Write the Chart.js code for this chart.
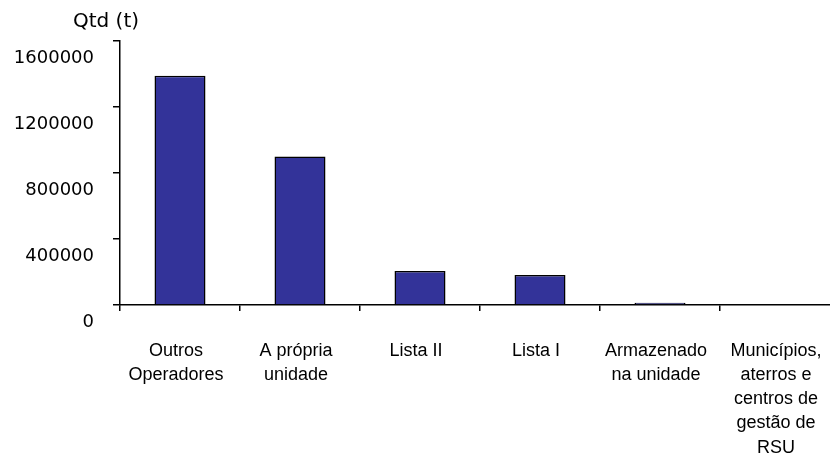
<!DOCTYPE html>
<html>
<head>
<meta charset="utf-8">
<script src="https://cdn.jsdelivr.net/npm/chart.js@4"></script>
<style>
  html, body { margin: 0; padding: 0; background: #fff; overflow: hidden; }
  canvas { display: block; }
</style>
</head>
<body>
<canvas id="destino" width="840" height="454"></canvas>
<script>
// Destino dos resíduos (t)
const categorias = [
  ['Outros', 'Operadores'],
  ['A própria', 'unidade'],
  'Lista II',
  'Lista I',
  ['Armazenado', 'na unidade'],
  ['Municípios,', 'aterros e', 'centros de', 'gestão de', 'RSU']
];
const quantidades = [1390000, 900000, 206000, 182000, 13000, 0];
const yMax = 1600000;
const yPasso = 400000;
const tituloY = 'Qtd (t)';

// titulo do eixo y, horizontal por cima do eixo
const tituloPlugin = {
  id: 'tituloY',
  afterDraw(chart) {
    const ctx = chart.ctx;
    ctx.save();
    ctx.font = '20px "DejaVu Sans", Verdana, sans-serif';
    ctx.fillStyle = '#000';
    ctx.textAlign = 'center';
    ctx.textBaseline = 'middle';
    ctx.fillText(tituloY, 106, 22);
    ctx.restore();
  }
};

new Chart(document.getElementById('destino').getContext('2d'), {
  type: 'bar',
  data: {
    labels: categorias,
    datasets: [{
      data: quantidades,
      backgroundColor: '#333399',
      borderColor: '#000',
      borderWidth: 1.5,
      barPercentage: 0.425,
      categoryPercentage: 1
    }]
  },
  options: {
    responsive: false,
    animation: false,
    devicePixelRatio: 1,
    layout: { padding: { top: 41, right: 0, bottom: 0, left: 0 } },
    plugins: {
      legend: { display: false },
      tooltip: { enabled: false }
    },
    scales: {
      x: {
        afterFit(scale) {
          scale.height = 149;
          scale.paddingLeft = 0;
          scale.paddingRight = 0;
        },
        grid: { offset: true, drawOnChartArea: false, tickLength: 6, color: '#000', lineWidth: 1.5 },
        border: { color: '#000', width: 1.5 },
        ticks: {
          color: '#000',
          padding: 28,
          labelOffset: -4,
          maxRotation: 0,
          autoSkip: false,
          font: { family: '"Liberation Sans", Arial, sans-serif', size: 18, lineHeight: 1.34 }
        }
      },
      y: {
        min: 0,
        max: yMax,
        afterFit(scale) { scale.width = 120; },
        grid: { drawOnChartArea: false, tickLength: 7, color: '#000', lineWidth: 1.5 },
        border: { color: '#000', width: 1.5 },
        ticks: {
          stepSize: yPasso,
          color: '#000',
          padding: 19,
          labelOffset: 17,
          font: { family: '"DejaVu Sans", Verdana, sans-serif', size: 18 },
          callback: v => String(v)
        }
      }
    }
  },
  plugins: [tituloPlugin]
});
</script>
</body>
</html>
